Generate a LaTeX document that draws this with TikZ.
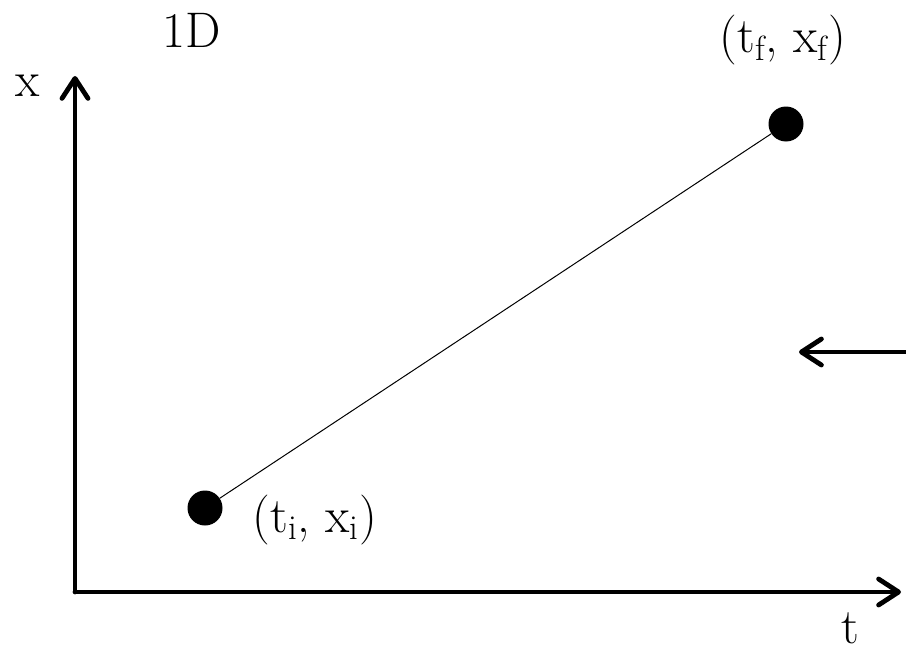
\documentclass[tikz,border=0pt]{standalone}
\usepackage{tikz}
\usetikzlibrary{positioning,arrows.meta}
\tikzset{
  axis/.style={line width=2.4pt,line cap=round,-{Straight Barb[length=10pt,width=13pt,round]}},
  dot/.style={circle,fill=black,minimum size=17.5pt,inner sep=0pt},
  lbl/.style={anchor=base,inner sep=0pt,font=\fontsize{25}{30}\selectfont},
  path/.style={line width=0.5pt,black}
}

\begin{document}
\begin{tikzpicture}[x=0.5pt,y=-0.5pt]
  \useasboundingbox (0,0) rectangle (906,653);

  % axes
  \coordinate (O) at (75,592);
  \coordinate (xtop) at (75,76);
  \coordinate (tend) at (901,592);
  \draw[axis] (O) -- (xtop);
  \draw[axis] (O) -- (tend);
  \node[lbl] (xlab) at (28,97) {x};
  \node[lbl] (tlab) at (850,643) {t};
  \node[lbl] (title) at (192,47) {1D};

  % end points
  \node[dot] (Pi) at (205,508) {};
  \node[dot] (Pf) at (786,124) {};
  \draw[path] (Pi) -- (Pf);
  \node[lbl] (Pilab) at (315,532) {(t\textsubscript{i}, x\textsubscript{i})};
  \node[lbl] (Pflab) at (783,53) {(t\textsubscript{f}, x\textsubscript{f})};

  % arrow from the right
  \coordinate (ain) at (915,352);
  \coordinate (aout) at (799,352);
  \draw[axis] (ain) -- (aout);
\end{tikzpicture}
\end{document}
